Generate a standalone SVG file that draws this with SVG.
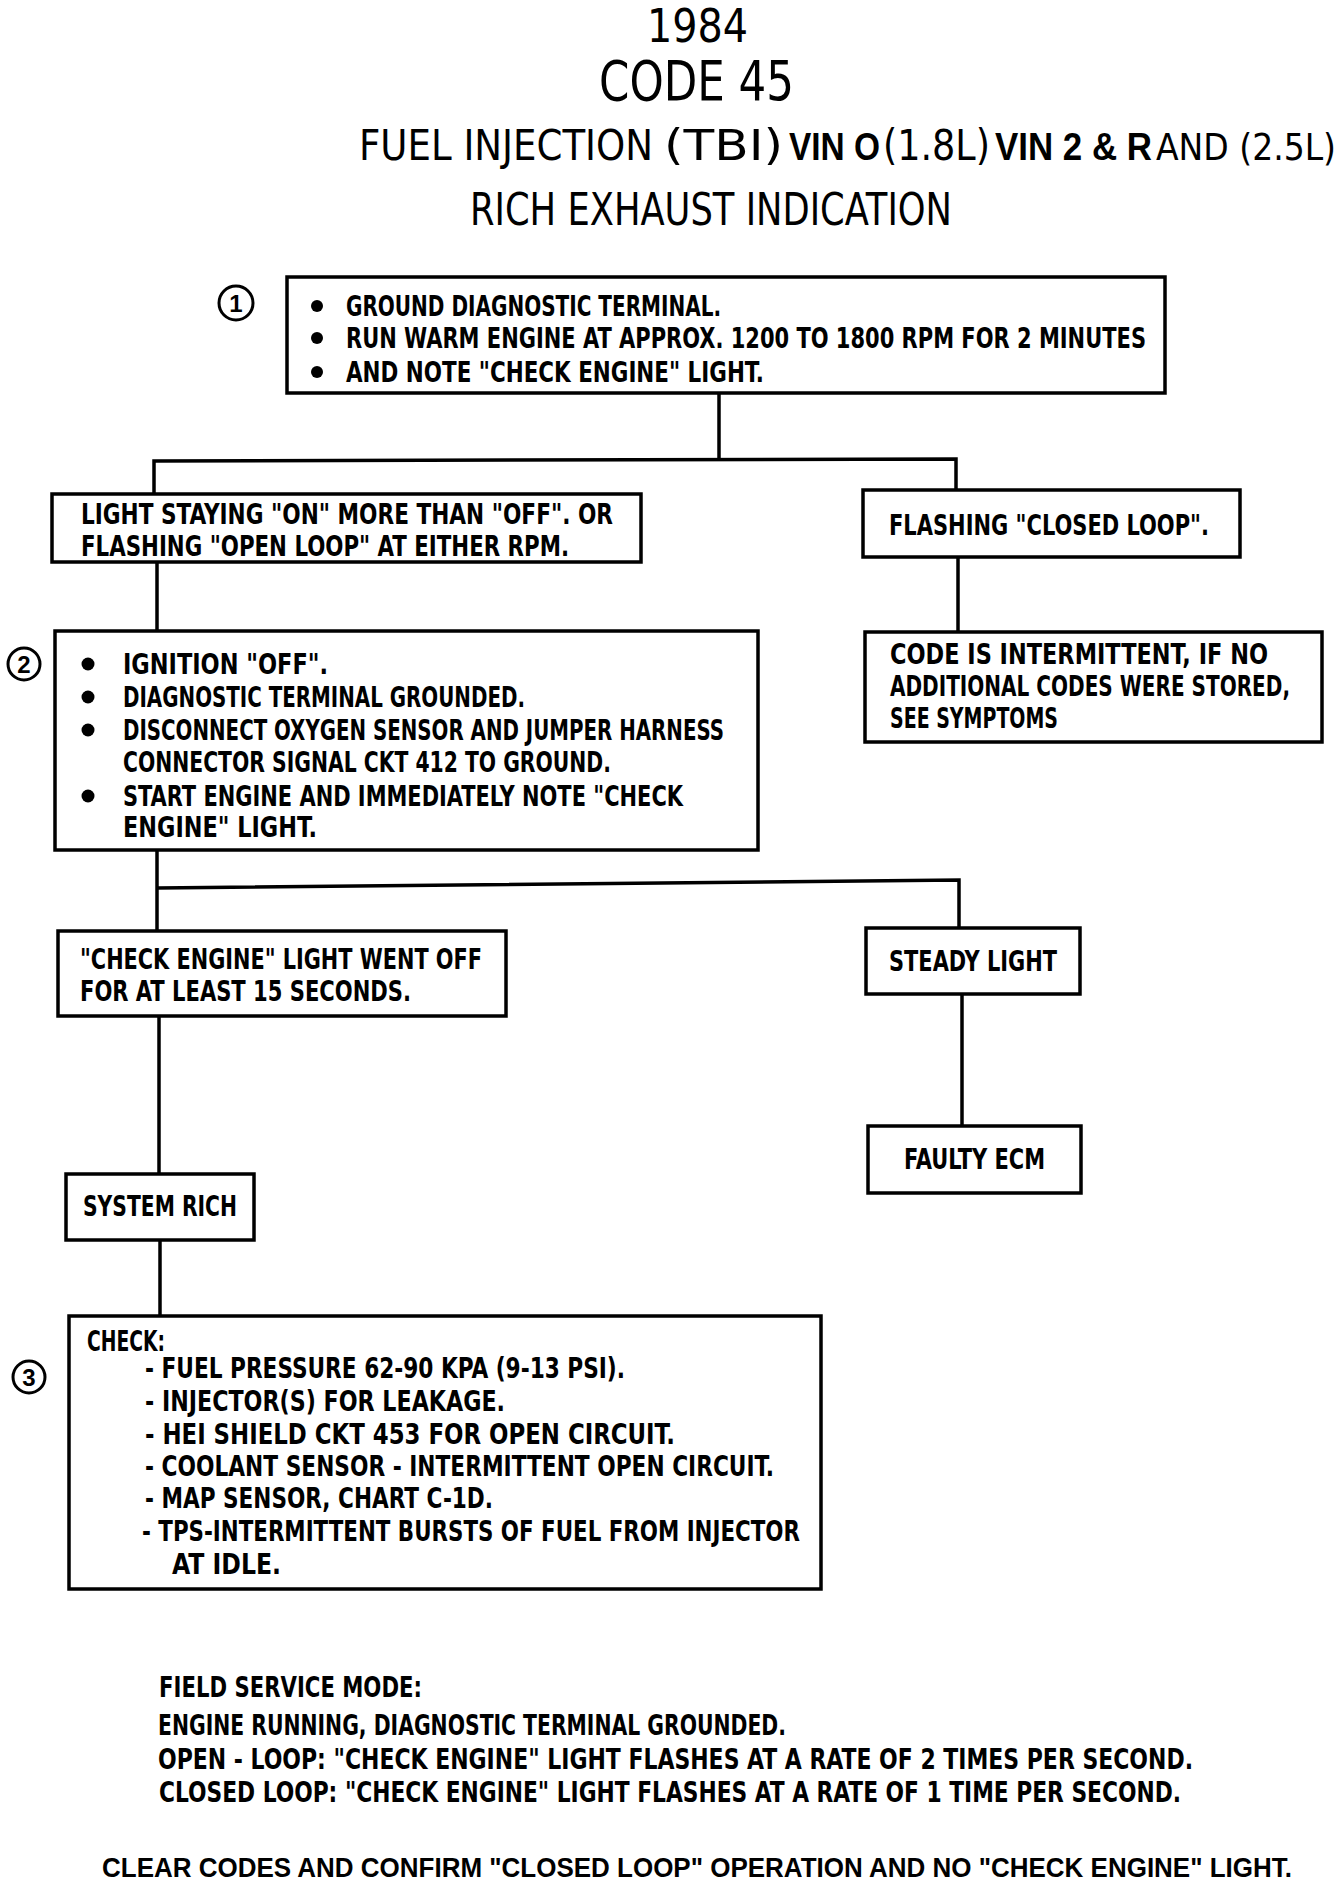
<svg xmlns="http://www.w3.org/2000/svg" width="1344" height="1884" viewBox="0 0 1344 1884">
<style>
.bg{fill:#fff}
.box{fill:none;stroke:#000;stroke-width:3.5}
.ln{fill:none;stroke:#000;stroke-width:3.5}
.t{font-family:"Liberation Sans Narrow","DejaVu Sans Condensed","Liberation Sans",sans-serif;font-size:28px;fill:#000;font-weight:bold}
.h{font-family:"Liberation Sans Narrow","DejaVu Sans Condensed","Liberation Sans",sans-serif;fill:#000}
.hb{font-family:"Liberation Sans","Arial",sans-serif;font-weight:bold;fill:#000}
.f{font-family:"Liberation Sans Narrow","Liberation Sans",sans-serif;font-weight:bold;font-size:27px;fill:#000}
.dot{fill:#000}
.num{fill:none;stroke:#000;stroke-width:3}
.nt{font-family:"Liberation Sans","DejaVu Sans",sans-serif;font-weight:bold;font-size:24px;fill:#000}
</style>
<rect class="bg" x="0" y="0" width="1344" height="1884"/>
<g id="title">
<text class="h" x="647" y="42" font-size="46" textLength="101" lengthAdjust="spacingAndGlyphs">1984</text>
<text class="h" x="599" y="100" font-size="55" textLength="195" lengthAdjust="spacingAndGlyphs">CODE 45</text>
<text class="h" x="359" y="160" font-size="42" textLength="294" lengthAdjust="spacingAndGlyphs">FUEL INJECTION</text>
<text class="h" x="664" y="160" font-size="42" textLength="119" lengthAdjust="spacingAndGlyphs">(TBI)</text>
<text class="hb" x="789" y="160" font-size="38" textLength="91" lengthAdjust="spacingAndGlyphs">VIN O</text>
<text class="h" x="883" y="160" font-size="42" textLength="107" lengthAdjust="spacingAndGlyphs">(1.8L)</text>
<text class="hb" x="995" y="160" font-size="38" textLength="157" lengthAdjust="spacingAndGlyphs">VIN 2 &amp; R</text>
<text class="h" x="1156" y="160" font-size="38" textLength="180" lengthAdjust="spacingAndGlyphs">AND (2.5L)</text>
<text class="h" x="470" y="225" font-size="44" textLength="482" lengthAdjust="spacingAndGlyphs">RICH EXHAUST INDICATION</text>
</g>
<g id="connectors">
<polyline class="ln" points="719,393 719,460"/>
<polyline class="ln" points="154,494 154,461 956,459 956,490"/>
<polyline class="ln" points="958,557 958,632"/>
<polyline class="ln" points="157,562 157,631"/>
<polyline class="ln" points="157,850 157,931"/>
<polyline class="ln" points="157,888 959,880 959,928"/>
<polyline class="ln" points="962,994 962,1126"/>
<polyline class="ln" points="159,1016 159,1174"/>
<polyline class="ln" points="160,1240 160,1316"/>
</g>
<g id="step1">
<circle class="num" cx="236" cy="303" r="17"/>
<text class="nt" x="236" y="312" text-anchor="middle">1</text>
</g>
<g id="box1">
<rect class="box" x="287" y="277" width="878" height="116"/>
<circle class="dot" cx="317" cy="306" r="6"/><circle class="dot" cx="317" cy="338" r="6"/><circle class="dot" cx="317" cy="372" r="6"/>
<text class="t" x="346" y="316" textLength="375" lengthAdjust="spacingAndGlyphs">GROUND DIAGNOSTIC TERMINAL.</text>
<text class="t" x="346" y="348" textLength="800" lengthAdjust="spacingAndGlyphs">RUN WARM ENGINE AT APPROX. 1200 TO 1800 RPM FOR 2 MINUTES</text>
<text class="t" x="346" y="382" textLength="418" lengthAdjust="spacingAndGlyphs">AND NOTE "CHECK ENGINE" LIGHT.</text>
</g>
<g id="box-light-on">
<rect class="box" x="52" y="494" width="589" height="68"/>
<text class="t" x="81" y="524" textLength="532" lengthAdjust="spacingAndGlyphs">LIGHT STAYING "ON" MORE THAN "OFF". OR</text>
<text class="t" x="81" y="556" textLength="488" lengthAdjust="spacingAndGlyphs">FLASHING "OPEN LOOP" AT EITHER RPM.</text>
</g>
<g id="box-flashing">
<rect class="box" x="863" y="490" width="377" height="67"/>
<text class="t" x="889" y="535" textLength="320" lengthAdjust="spacingAndGlyphs">FLASHING "CLOSED LOOP".</text>
</g>
<g id="box-intermittent">
<rect class="box" x="865" y="632" width="457" height="110"/>
<text class="t" x="890" y="664" textLength="378" lengthAdjust="spacingAndGlyphs">CODE IS INTERMITTENT, IF NO</text>
<text class="t" x="890" y="696" font-size="24" textLength="400" lengthAdjust="spacingAndGlyphs">ADDITIONAL CODES WERE STORED,</text>
<text class="t" x="890" y="728" textLength="168" lengthAdjust="spacingAndGlyphs">SEE SYMPTOMS</text>
</g>
<g id="step2">
<circle class="num" cx="24" cy="664" r="16"/>
<text class="nt" x="24" y="673" text-anchor="middle">2</text>
</g>
<g id="box2">
<rect class="box" x="55" y="631" width="703" height="219"/>
<circle class="dot" cx="88" cy="664" r="6.5"/><circle class="dot" cx="88" cy="697" r="6.5"/><circle class="dot" cx="88" cy="730" r="6.5"/><circle class="dot" cx="88" cy="796" r="6.5"/>
<text class="t" x="123" y="674" textLength="205" lengthAdjust="spacingAndGlyphs">IGNITION "OFF".</text>
<text class="t" x="123" y="707" textLength="402" lengthAdjust="spacingAndGlyphs">DIAGNOSTIC TERMINAL GROUNDED.</text>
<text class="t" x="123" y="740" textLength="601" lengthAdjust="spacingAndGlyphs">DISCONNECT OXYGEN SENSOR AND JUMPER HARNESS</text>
<text class="t" x="123" y="772" textLength="488" lengthAdjust="spacingAndGlyphs">CONNECTOR SIGNAL CKT 412 TO GROUND.</text>
<text class="t" x="123" y="806" textLength="560" lengthAdjust="spacingAndGlyphs">START ENGINE AND IMMEDIATELY NOTE "CHECK</text>
<text class="t" x="123" y="837" textLength="194" lengthAdjust="spacingAndGlyphs">ENGINE" LIGHT.</text>
</g>
<g id="box-went-off">
<rect class="box" x="58" y="931" width="448" height="85"/>
<text class="t" x="80" y="969" textLength="402" lengthAdjust="spacingAndGlyphs">"CHECK ENGINE" LIGHT WENT OFF</text>
<text class="t" x="80" y="1001" textLength="331" lengthAdjust="spacingAndGlyphs">FOR AT LEAST 15 SECONDS.</text>
</g>
<g id="box-steady">
<rect class="box" x="866" y="928" width="214" height="66"/>
<text class="t" x="889" y="971" textLength="168" lengthAdjust="spacingAndGlyphs">STEADY LIGHT</text>
</g>
<g id="box-faulty">
<rect class="box" x="868" y="1126" width="213" height="67"/>
<text class="t" x="904" y="1169" textLength="141" lengthAdjust="spacingAndGlyphs">FAULTY ECM</text>
</g>
<g id="box-rich">
<rect class="box" x="66" y="1174" width="188" height="66"/>
<text class="t" x="83" y="1216" textLength="154" lengthAdjust="spacingAndGlyphs">SYSTEM RICH</text>
</g>
<g id="step3">
<circle class="num" cx="29" cy="1377" r="16"/>
<text class="nt" x="29" y="1386" text-anchor="middle">3</text>
</g>
<g id="box3">
<rect class="box" x="69" y="1316" width="752" height="273"/>
<text class="t" x="87" y="1351" textLength="78" lengthAdjust="spacingAndGlyphs">CHECK:</text>
<text class="t" x="145" y="1378" textLength="480" lengthAdjust="spacingAndGlyphs">- FUEL PRESSURE 62-90 KPA (9-13 PSI).</text>
<text class="t" x="145" y="1411" textLength="360" lengthAdjust="spacingAndGlyphs">- INJECTOR(S) FOR LEAKAGE.</text>
<text class="t" x="145" y="1444" textLength="530" lengthAdjust="spacingAndGlyphs">- HEI SHIELD CKT 453 FOR OPEN CIRCUIT.</text>
<text class="t" x="145" y="1476" textLength="629" lengthAdjust="spacingAndGlyphs">- COOLANT SENSOR - INTERMITTENT OPEN CIRCUIT.</text>
<text class="t" x="145" y="1508" textLength="348" lengthAdjust="spacingAndGlyphs">- MAP SENSOR, CHART C-1D.</text>
<text class="t" x="142" y="1541" textLength="658" lengthAdjust="spacingAndGlyphs">- TPS-INTERMITTENT BURSTS OF FUEL FROM INJECTOR</text>
<text class="t" x="172" y="1574" textLength="109" lengthAdjust="spacingAndGlyphs">AT IDLE.</text>
</g>
<g id="field-service">
<text class="t" x="159" y="1697" textLength="263" lengthAdjust="spacingAndGlyphs">FIELD SERVICE MODE:</text>
<text class="t" x="158" y="1735" textLength="628" lengthAdjust="spacingAndGlyphs">ENGINE RUNNING, DIAGNOSTIC TERMINAL GROUNDED.</text>
<text class="t" x="158" y="1769" textLength="1035" lengthAdjust="spacingAndGlyphs">OPEN - LOOP: "CHECK ENGINE" LIGHT FLASHES AT A RATE OF 2 TIMES PER SECOND.</text>
<text class="t" x="159" y="1802" textLength="1022" lengthAdjust="spacingAndGlyphs">CLOSED LOOP: "CHECK ENGINE" LIGHT FLASHES AT A RATE OF 1 TIME PER SECOND.</text>
</g>
<g id="footer">
<text class="f" x="102" y="1877" textLength="1190" lengthAdjust="spacingAndGlyphs">CLEAR CODES AND CONFIRM "CLOSED LOOP" OPERATION AND NO "CHECK ENGINE" LIGHT.</text>
</g>
</svg>
